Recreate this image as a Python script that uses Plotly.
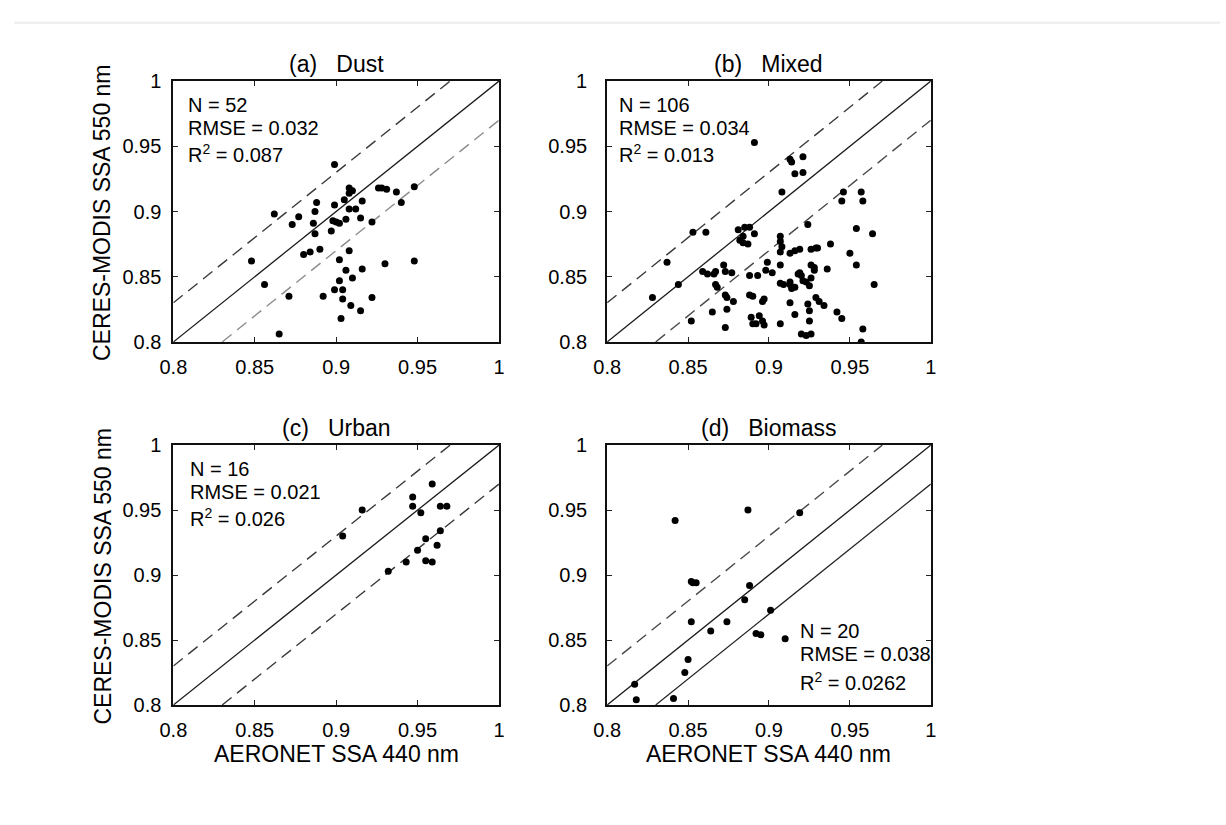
import plotly.graph_objects as go

# Shared axis ticks (single-scattering albedo)
TICKS = [0.8, 0.85, 0.9, 0.95, 1.0]
TICK_TEXT = ["0.8", "0.85", "0.9", "0.95", "1"]
AX_RANGE = [0.8, 1.0]
OFFSET = 0.03  # +/- envelope around the 1:1 line

# (a) Dust
dust_x = [0.899, 0.908, 0.926, 0.928, 0.931, 0.937, 0.948, 0.940, 0.888, 0.899,
          0.905, 0.908, 0.910, 0.916, 0.908, 0.912, 0.862, 0.877, 0.887, 0.915,
          0.922, 0.873, 0.886, 0.898, 0.902, 0.906, 0.900, 0.897, 0.887, 0.848,
          0.880, 0.884, 0.890, 0.908, 0.902, 0.930, 0.948, 0.906, 0.916, 0.910,
          0.902, 0.856, 0.899, 0.904, 0.871, 0.892, 0.904, 0.922, 0.909, 0.915,
          0.903, 0.865]
dust_y = [0.936, 0.918, 0.918, 0.918, 0.917, 0.915, 0.919, 0.907, 0.907, 0.905,
          0.909, 0.914, 0.916, 0.908, 0.902, 0.902, 0.898, 0.896, 0.900, 0.895,
          0.892, 0.890, 0.891, 0.893, 0.891, 0.894, 0.892, 0.885, 0.883, 0.862,
          0.867, 0.869, 0.871, 0.870, 0.863, 0.860, 0.862, 0.855, 0.856, 0.849,
          0.847, 0.844, 0.840, 0.840, 0.835, 0.835, 0.833, 0.834, 0.828, 0.824,
          0.818, 0.806]

# (b) Mixed
mixed_x = [0.891, 0.913, 0.921, 0.914, 0.916, 0.921, 0.908, 0.946, 0.957, 0.945,
           0.958, 0.853, 0.861, 0.924, 0.954, 0.964, 0.881, 0.885, 0.888, 0.891,
           0.884, 0.887, 0.882, 0.837, 0.907, 0.907, 0.908, 0.907, 0.913, 0.916,
           0.926, 0.929, 0.938, 0.950, 0.899, 0.902, 0.907, 0.926, 0.928, 0.954,
           0.965, 0.844, 0.828, 0.859, 0.862, 0.866, 0.867, 0.867, 0.868, 0.872,
           0.873, 0.877, 0.873, 0.874, 0.878, 0.874, 0.873, 0.865, 0.852, 0.888,
           0.893, 0.888, 0.890, 0.896, 0.897, 0.889, 0.892, 0.894, 0.896, 0.897,
           0.890, 0.907, 0.913, 0.913, 0.914, 0.916, 0.918, 0.919, 0.920, 0.921,
           0.923, 0.925, 0.926, 0.928, 0.924, 0.925, 0.929, 0.931, 0.934, 0.936,
           0.942, 0.945, 0.925, 0.920, 0.923, 0.926, 0.913, 0.916, 0.958, 0.957,
           0.907, 0.909, 0.898, 0.930, 0.919, 0.884]
mixed_y = [0.953, 0.940, 0.942, 0.938, 0.929, 0.930, 0.915, 0.915, 0.915, 0.908,
           0.908, 0.884, 0.884, 0.890, 0.887, 0.883, 0.886, 0.888, 0.888, 0.883,
           0.881, 0.875, 0.878, 0.861, 0.881, 0.877, 0.873, 0.869, 0.868, 0.870,
           0.871, 0.872, 0.875, 0.868, 0.861, 0.853, 0.859, 0.859, 0.855, 0.859,
           0.844, 0.844, 0.834, 0.854, 0.852, 0.852, 0.854, 0.844, 0.842, 0.859,
           0.854, 0.853, 0.836, 0.834, 0.831, 0.825, 0.811, 0.823, 0.816, 0.851,
           0.851, 0.836, 0.835, 0.831, 0.833, 0.819, 0.814, 0.820, 0.816, 0.813,
           0.814, 0.814, 0.846, 0.844, 0.841, 0.842, 0.852, 0.853, 0.851, 0.847,
           0.846, 0.843, 0.849, 0.857, 0.829, 0.824, 0.834, 0.831, 0.828, 0.856,
           0.823, 0.818, 0.816, 0.806, 0.805, 0.806, 0.830, 0.821, 0.810, 0.800,
           0.845, 0.844, 0.855, 0.872, 0.871, 0.876]

# (c) Urban
urban_x = [0.904, 0.916, 0.947, 0.947, 0.952, 0.959, 0.964, 0.968, 0.964, 0.955,
           0.962, 0.950, 0.943, 0.955, 0.959, 0.932]
urban_y = [0.930, 0.950, 0.960, 0.953, 0.948, 0.970, 0.953, 0.953, 0.934, 0.928,
           0.923, 0.919, 0.910, 0.911, 0.910, 0.903]

# (d) Biomass
biomass_x = [0.842, 0.887, 0.919, 0.852, 0.855, 0.853, 0.888, 0.885, 0.901, 0.852,
             0.874, 0.864, 0.892, 0.895, 0.910, 0.850, 0.848, 0.817, 0.818, 0.841]
biomass_y = [0.942, 0.950, 0.948, 0.895, 0.894, 0.894, 0.892, 0.881, 0.873, 0.864,
             0.864, 0.857, 0.855, 0.854, 0.851, 0.835, 0.825, 0.816, 0.804, 0.805]

TITLES = ["(a)", "(b)", "(c)", "(d)"]
NAMES = ["Dust", "Mixed", "Urban", "Biomass"]
STATS_N = ["52", "106", "16", "20"]
STATS_RMSE = ["0.032", "0.034", "0.021", "0.038"]
STATS_R2 = ["0.087", "0.013", "0.026", "0.0262"]

W, H = 1226, 825
FONT = "Liberation Sans, Arial, Helvetica, sans-serif"
INK = "#000000"
DASH = "12px,7px"
GAP = "\u00a0\u00a0\u00a0"

# panel frames in pixels: (left, right, top, bottom)
COLS = [(162, 493), (603, 932)]
ROWS = [(72, 340), (446, 713)]

panels = [
    dict(x=dust_x, y=dust_y, col=0, row=0, up="#3a3a3a", low="#8c8c8c", low_dash=True,
         stats=(175, "top")),
    dict(x=mixed_x, y=mixed_y, col=1, row=0, up="#3a3a3a", low="#4a4a4a", low_dash=True,
         stats=(613, "top")),
    dict(x=urban_x, y=urban_y, col=0, row=1, up="#3a3a3a", low="#3a3a3a", low_dash=True,
         stats=(177, "top")),
    dict(x=biomass_x, y=biomass_y, col=1, row=1, up="#4a4a4a", low="#222222", low_dash=False,
         stats=(797, "bottom")),
]


def px(x):
    return x / W


def py(y):
    return 1 - y / H


fig = go.Figure()
annotations = []

for i, p in enumerate(panels):
    k = "" if i == 0 else str(i + 1)
    xa, ya = "x" + k, "y" + k
    left, right = COLS[p["col"]]
    top, bottom = ROWS[p["row"]]

    lo, hi = AX_RANGE
    # 1:1 line and +/- offset envelope
    fig.add_trace(go.Scatter(x=[lo, hi], y=[lo, hi], mode="lines",
                             line=dict(color="#1a1a1a", width=1.3),
                             xaxis=xa, yaxis=ya, hoverinfo="skip"))
    fig.add_trace(go.Scatter(x=[lo, hi - OFFSET], y=[lo + OFFSET, hi], mode="lines",
                             line=dict(color=p["up"], width=1.4, dash=DASH),
                             xaxis=xa, yaxis=ya, hoverinfo="skip"))
    fig.add_trace(go.Scatter(x=[lo + OFFSET, hi], y=[lo, hi - OFFSET], mode="lines",
                             line=dict(color=p["low"], width=1.4 if p["low_dash"] else 1.2,
                                       dash=DASH if p["low_dash"] else "solid"),
                             xaxis=xa, yaxis=ya, hoverinfo="skip"))
    fig.add_trace(go.Scatter(x=p["x"], y=p["y"], mode="markers",
                             marker=dict(color="#000000", size=7),
                             xaxis=xa, yaxis=ya, name=NAMES[i]))

    common = dict(range=AX_RANGE, tickvals=TICKS, ticktext=TICK_TEXT,
                  ticks="inside", ticklen=5, tickwidth=1, tickcolor="#222",
                  showline=True, linewidth=2, linecolor="#111", mirror="ticks",
                  showgrid=False, zeroline=False,
                  tickfont=dict(family=FONT, size=20, color=INK))
    fig.layout["xaxis" + k] = dict(common, domain=[px(left), px(right)], anchor=ya,
                                   ticklabelstandoff=6)
    fig.layout["yaxis" + k] = dict(common, domain=[py(bottom), py(top)], anchor=xa,
                                   ticklabelstandoff=6 if p["col"] == 0 else 14)

    cx = (left + right) / 2
    annotations.append(dict(text=TITLES[i] + GAP + NAMES[i], x=px(cx), y=py(top - 18),
                            xref="paper", yref="paper",
                            showarrow=False, xanchor="center", yanchor="middle",
                            font=dict(family=FONT, size=23, color=INK)))

    sx, where = p["stats"]
    if where == "top":
        ys = [top + 25, top + 48, top + 74]
    else:
        ys = [637, 661, 689]
    lines = ["N = " + STATS_N[i], "RMSE = " + STATS_RMSE[i], "R<sup>2</sup> = " + STATS_R2[i]]
    for txt, yy in zip(lines, ys):
        annotations.append(dict(text=txt, x=px(sx), y=py(yy), xref="paper", yref="paper",
                                showarrow=False, xanchor="left", yanchor="middle",
                                font=dict(family=FONT, size=20, color=INK)))

# shared axis titles
for top, bottom in ROWS:
    annotations.append(dict(text="CERES-MODIS SSA 550 nm", x=px(90), y=py((top + bottom) / 2 + 1),
                            xref="paper", yref="paper", showarrow=False, textangle=-90,
                            xanchor="center", yanchor="middle",
                            font=dict(family=FONT, size=23, color=INK)))
for left, right in COLS:
    annotations.append(dict(text="AERONET SSA 440 nm", x=px((left + right) / 2), y=py(763),
                            xref="paper", yref="paper", showarrow=False,
                            xanchor="center", yanchor="middle",
                            font=dict(family=FONT, size=23, color=INK)))

fig.update_layout(
    width=W, height=H,
    margin=dict(l=0, r=0, t=0, b=0),
    paper_bgcolor="white", plot_bgcolor="white",
    showlegend=False,
    annotations=annotations,
    shapes=[dict(type="line", xref="paper", yref="paper", x0=0, x1=1, y0=py(12), y1=py(12),
                 line=dict(color="#ececec", width=2))],
)

fig.write_html("out.html")
